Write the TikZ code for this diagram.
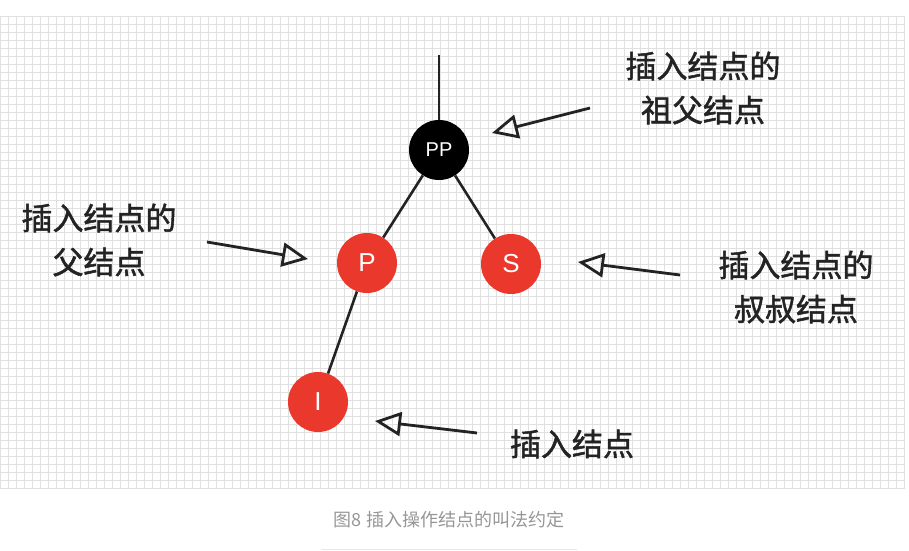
\documentclass[tikz,border=0pt]{standalone}
\usepackage{fontspec}
\setmainfont{Liberation Sans}
\newfontfamily\cjk[FakeBold=1.6]{Noto Sans CJK SC}
\newfontfamily\cjkcap{Noto Sans CJK SC}
\usetikzlibrary{arrows.meta}
\definecolor{nodered}{RGB}{234,56,44}
\definecolor{gridc}{RGB}{224,224,224}
\definecolor{linec}{RGB}{232,232,232}
\definecolor{ink}{RGB}{35,35,35}
\definecolor{capc}{RGB}{150,150,150}
\tikzset{
  rbnode/.style={circle, minimum size=60pt, inner sep=0pt, text=white, font=\fontsize{26}{26}\selectfont},
  rednode/.style={rbnode, fill=nodered},
  blacknode/.style={rbnode, fill=black, font=\fontsize{20}{20}\selectfont},
  edge/.style={draw=ink, line width=2.6pt},
  pointer/.style={draw=ink, line width=2.8pt, -{Triangle[open, length=26pt, width=24pt, line width=2.8pt]}},
  label/.style={font=\cjk\fontsize{31}{44}\selectfont, text=ink, align=center, inner sep=0pt},
}
\begin{document}
\begin{tikzpicture}[x=1pt,y=-1pt]
\useasboundingbox (0,0) rectangle (909,550);
\begin{scope}
\clip (0,16) rectangle (905,488);
\draw[gridc, line width=1pt, step=8pt] (0,0) grid (912,600);
\end{scope}
\node[blacknode] (pp) at (439,150) {PP};
\node[rednode] (p) at (367,263) {P};
\node[rednode] (s) at (511,264) {S};
\node[rednode] (i) at (318,402) {I};
\coordinate (top) at (439,55);
\draw[edge] (top) -- (pp);
\draw[edge] (pp) -- (p);
\draw[edge] (pp) -- (s);
\draw[edge] (p) -- (i);
\coordinate (a1s) at (590,108); \coordinate (a1t) at (492,133);
\coordinate (a2s) at (207,242); \coordinate (a2t) at (308,259);
\coordinate (a3s) at (680,275); \coordinate (a3t) at (578,262);
\coordinate (a4s) at (477,433); \coordinate (a4t) at (375,421);
\draw[pointer] (a1s) -- (a1t);
\draw[pointer] (a2s) -- (a2t);
\draw[pointer] (a3s) -- (a3t);
\draw[pointer] (a4s) -- (a4t);
\node[label] (l1) at (703,88) {插入结点的\\祖父结点};
\node[label] (l2) at (99,240) {插入结点的\\父结点};
\node[label] (l3) at (796,287) {插入结点的\\叔叔结点};
\node[label] (l4) at (572,444) {插入结点};
\node[font=\cjkcap\fontsize{18}{18}\selectfont, text=capc, inner sep=0pt] (cap) at (449,520) {图8 插入操作结点的叫法约定};
\draw[linec, line width=1pt] (321,549) -- (577,549);
\end{tikzpicture}
\end{document}
